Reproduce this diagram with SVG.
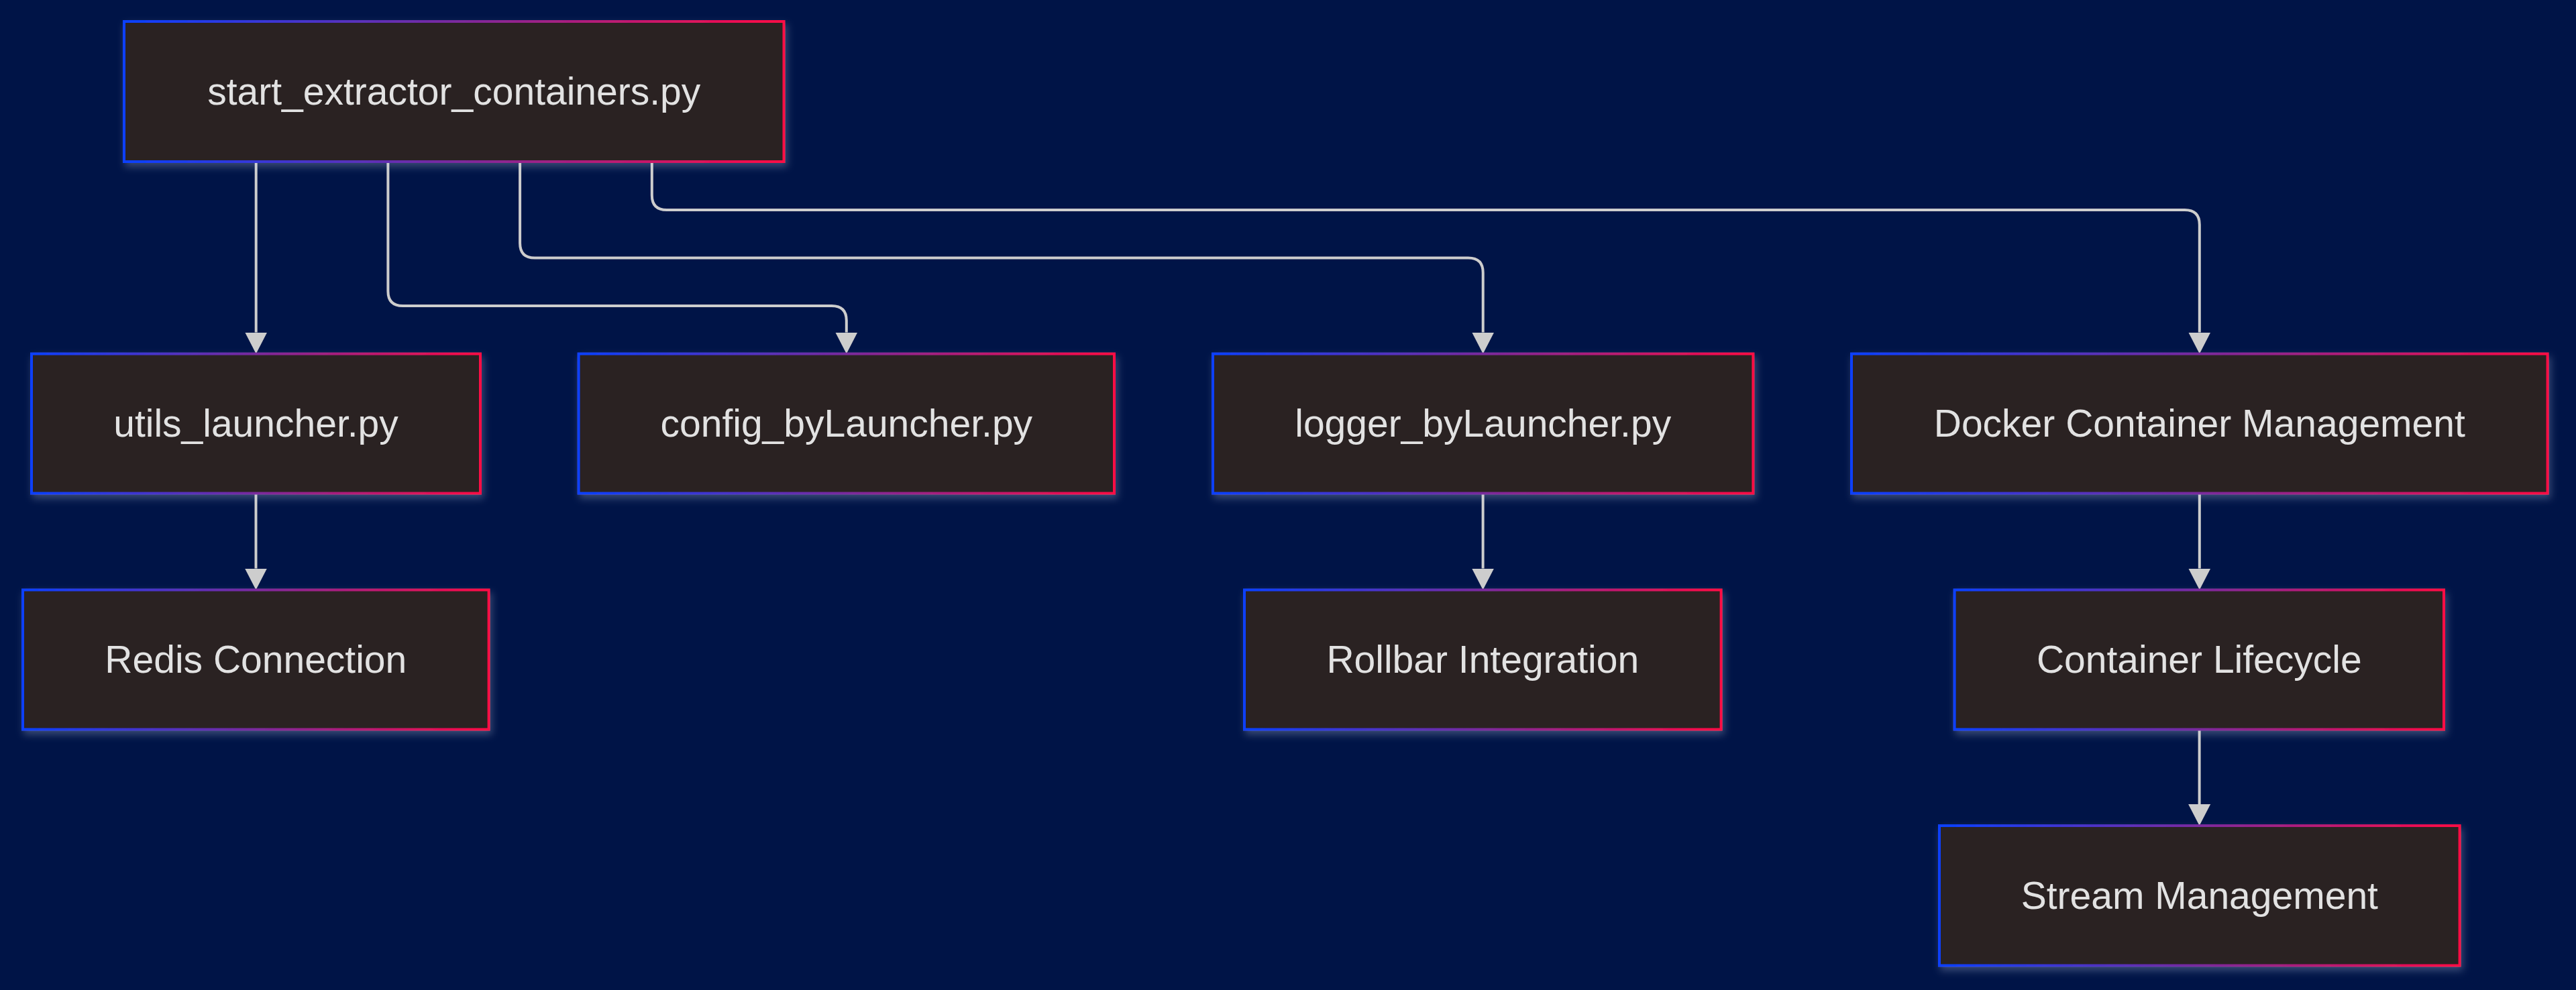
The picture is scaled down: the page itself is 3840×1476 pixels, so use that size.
<svg xmlns="http://www.w3.org/2000/svg" width="3840" height="1476" viewBox="0 0 3840 1476">
<defs>
<linearGradient id="bord" x1="0" y1="0" x2="1" y2="0">
<stop offset="0" stop-color="#0a40ff"/>
<stop offset="0.5" stop-color="#7a2a9e"/>
<stop offset="1" stop-color="#ff0a45"/>
</linearGradient>
<filter id="sh" x="-10%" y="-20%" width="120%" height="150%">
<feDropShadow dx="3" dy="6" stdDeviation="6" flood-color="#c8d0ea" flood-opacity="0.28"/>
</filter>
<marker id="ah" viewBox="0 0 10 10" refX="0" refY="5" markerUnits="userSpaceOnUse" markerWidth="32" markerHeight="33" orient="auto" preserveAspectRatio="none">
<path d="M0,0 L10,5 L0,10 z" fill="#cdcdcd"/>
</marker>
</defs>
<style>
.box{fill:#2b2120;stroke:url(#bord);stroke-width:4;filter:url(#sh)}
.lbl{font-family:"Liberation Sans",Arial,sans-serif;font-size:57px;fill:#e2e2e2;text-anchor:middle}
.edge{fill:none;stroke:#cdcdcd;stroke-width:4;marker-end:url(#ah)}
</style>
<rect width="3840" height="1476" fill="#001447"/>
<g id="connectors">
<path class="edge" d="M381.7,243 L381.7,495.5"/>
<path class="edge" d="M578.4,243 L578.4,434 Q578.4,456 600.4,456 L1239.8,456 Q1261.8,456 1261.8,478 L1261.8,495.5"/>
<path class="edge" d="M775.1,243 L775.1,362.5 Q775.1,384.5 797.1,384.5 L2188.7,384.5 Q2210.7,384.5 2210.7,406.5 L2210.7,495.5"/>
<path class="edge" d="M971.8,243 L971.8,291 Q971.8,313 993.8,313 L3256.8,313 Q3278.8,313 3278.8,335 L3278.8,495.5"/>
<path class="edge" d="M381.5,737 L381.5,847.5"/>
<path class="edge" d="M2210.6,737 L2210.6,847.5"/>
<path class="edge" d="M3278.8,737 L3278.8,847.5"/>
<path class="edge" d="M3278.6,1089 L3278.6,1199"/>
</g>
<g id="start">
<rect class="box" x="185" y="32" width="983.5" height="209"/>
<text class="lbl" x="676.75" y="155.5">start_extractor_containers.py</text>
</g>
<g id="utils">
<rect class="box" x="47" y="527.5" width="669" height="208"/>
<text class="lbl" x="381.5" y="650.5">utils_launcher.py</text>
</g>
<g id="config">
<rect class="box" x="862.6" y="527.5" width="798.4" height="208"/>
<text class="lbl" x="1261.8" y="650.5">config_byLauncher.py</text>
</g>
<g id="logger">
<rect class="box" x="1808" y="527.5" width="805.4" height="208"/>
<text class="lbl" x="2210.7" y="650.5">logger_byLauncher.py</text>
</g>
<g id="docker">
<rect class="box" x="2760" y="527.5" width="1037.6" height="208"/>
<text class="lbl" x="3278.8" y="650.5">Docker Container Management</text>
</g>
<g id="redis">
<rect class="box" x="34" y="879.5" width="694.6" height="208"/>
<text class="lbl" x="381.3" y="1002.5">Redis Connection</text>
</g>
<g id="rollbar">
<rect class="box" x="1855" y="879.5" width="710.6" height="208"/>
<text class="lbl" x="2210.3" y="1002.5">Rollbar Integration</text>
</g>
<g id="lifecycle">
<rect class="box" x="2913.6" y="879.5" width="729.4" height="208"/>
<text class="lbl" x="3278.3" y="1002.5">Container Lifecycle</text>
</g>
<g id="stream">
<rect class="box" x="2891" y="1231" width="775.6" height="208.5"/>
<text class="lbl" x="3278.8" y="1354.5">Stream Management</text>
</g>
</svg>
